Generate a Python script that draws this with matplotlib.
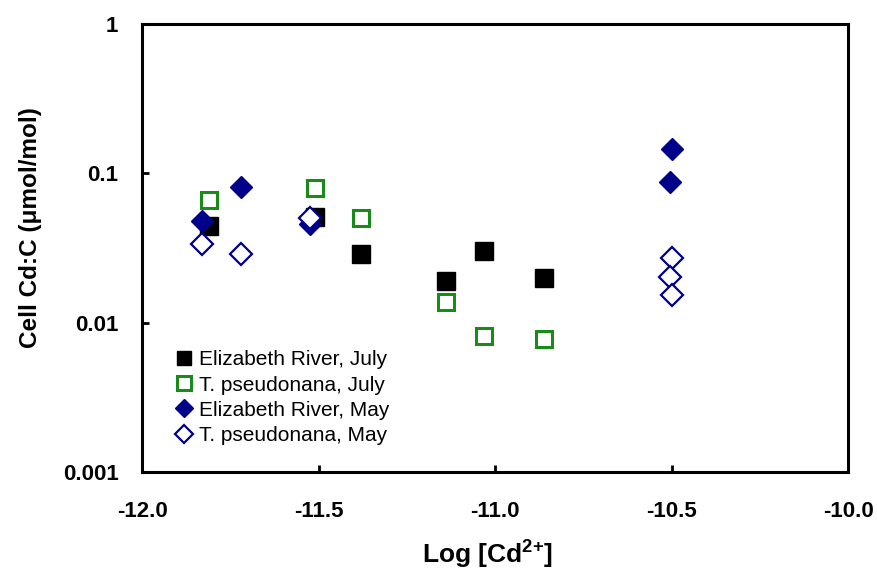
import numpy as np
import matplotlib.pyplot as plt

plt.rcParams['font.family'] = ['Liberation Sans', 'DejaVu Sans']
plt.rcParams['mathtext.fontset'] = 'custom'
plt.rcParams['mathtext.rm'] = 'Liberation Sans'
plt.rcParams['mathtext.bf'] = 'Liberation Sans:bold'

# Elizabeth River, July
er_july_x = [-11.81, -11.51, -11.38, -11.14, -11.03, -10.86]
er_july_y = [0.0444, 0.051, 0.0288, 0.019, 0.030, 0.020]

# T. pseudonana, July
tp_july_x = [-11.81, -11.51, -11.38, -11.14, -11.03, -10.86]
tp_july_y = [0.066, 0.080, 0.050, 0.0138, 0.0081, 0.0078]

# Elizabeth River, May
er_may_x = [-11.83, -11.72, -11.525, -10.50, -10.505]
er_may_y = [0.048, 0.081, 0.046, 0.146, 0.0875]

# T. pseudonana, May
tp_may_x = [-11.83, -11.72, -11.525, -10.50, -10.505, -10.50]
tp_may_y = [0.0336, 0.0288, 0.050, 0.0271, 0.0202, 0.0153]

xticks = [-12.0, -11.5, -11.0, -10.5, -10.0]
yticks = [0.001, 0.01, 0.1, 1]
yticklabels = ['0.001', '0.01', '0.1', '1']

fig = plt.figure(figsize=(8.77, 5.72), dpi=100)
ax = fig.add_axes([142/877, 1-472/572, (848-142)/877, (472-24)/572])

navy = '#00008B'
green = '#1A8A1A'
ax.plot(er_july_x, er_july_y, 's', ms=13, color='black', mec='black', ls='none', label='Elizabeth River, July')
ax.plot(tp_july_x, tp_july_y, 's', ms=12, mfc='white', mec=green, mew=2.2, ls='none', label='T. pseudonana, July')
ax.plot(er_may_x, er_may_y, 'D', ms=11, color=navy, mec=navy, ls='none', label='Elizabeth River, May')
ax.plot(tp_may_x, tp_may_y, 'D', ms=11, mfc='white', mec=navy, mew=1.6, ls='none', label='T. pseudonana, May')

ax.set_yscale('log')
ax.set_xlim(-12.0, -10.0)
ax.set_ylim(0.001, 1)
ax.set_xticks(xticks)
ax.set_xticklabels([f'{t:.1f}' for t in xticks], fontweight='bold', fontsize=16)
ax.set_yticks(yticks)
ax.set_yticklabels(yticklabels, fontweight='bold', fontsize=16)
ax.yaxis.set_minor_locator(plt.NullLocator())
ax.tick_params(axis='both', direction='in', length=5, width=2)
ax.tick_params(axis='x', pad=21)
ax.tick_params(axis='y', pad=17)
for s in ax.spines.values():
    s.set_linewidth(2.2)

ax.set_xlabel('Log [Cd$^{\\mathbf{2{+}}}$]', fontweight='bold', fontsize=19, labelpad=11, x=0.49)
ax.set_ylabel('Cell Cd:C (\u03bcmol/mol)', fontweight='bold', fontsize=17.5, labelpad=15, y=0.545)

leg = ax.legend(loc='upper left', bbox_to_anchor=(0.035, 0.295), frameon=False, fontsize=15,
                handlelength=0.7, handletextpad=0.35, labelspacing=0.3, markerscale=0.8,
                borderpad=0)

fig.savefig('out.png', dpi=100)
